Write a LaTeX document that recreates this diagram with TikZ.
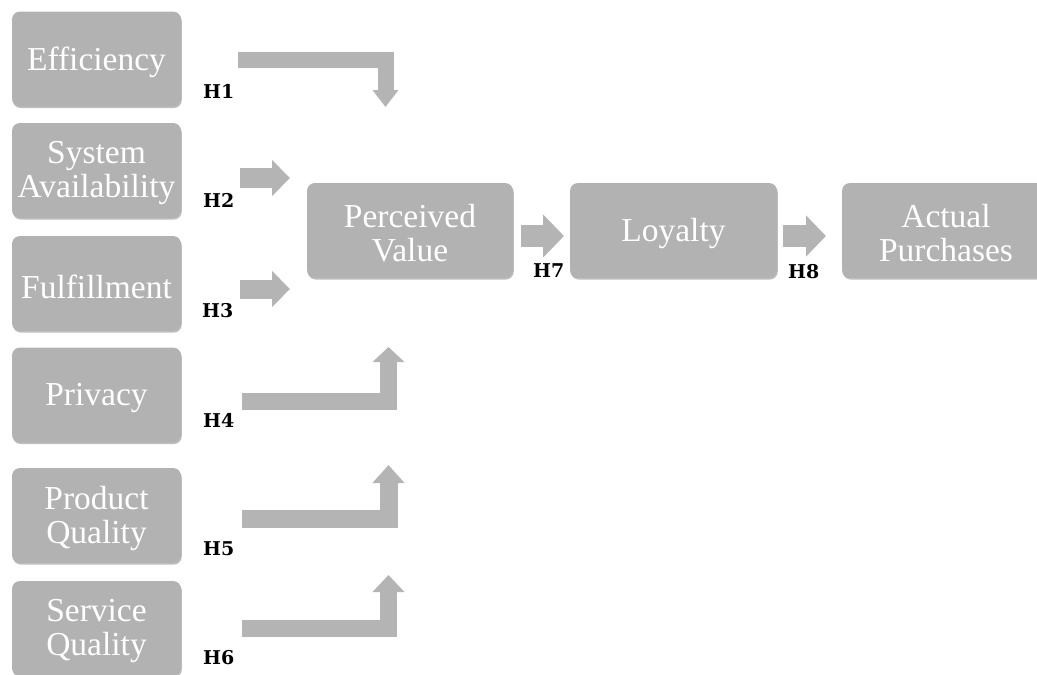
\documentclass[tikz,border=0pt]{standalone}
\usepackage{fontspec}
\setmainfont{Liberation Serif}
\newfontfamily\hfont{DejaVu Serif}
\usetikzlibrary{arrows.meta,shadows}

\definecolor{boxgray}{RGB}{178,178,178}
\definecolor{arrowgray}{RGB}{180,180,180}

\tikzset{
  boxtext/.style={align=center, text=white, inner sep=0pt, yshift=-3pt,
    font=\fontsize{33.5}{34}\selectfont},
  factor/.style={
    rectangle, rounded corners=8pt, fill=boxgray, draw=none,
    minimum width=169pt, minimum height=95pt, inner sep=0pt,
    drop shadow={shadow xshift=0.8pt, shadow yshift=-1.6pt, opacity=0.25, fill=black},
    label={[boxtext]center:#1}
  },
  stage/.style={factor=#1, minimum width=207pt},
  hyp/.style={anchor=base west, inner sep=0pt, font=\hfont\bfseries\fontsize{19}{19}\selectfont},
  blockarrow/.style={draw=arrowgray, line width=#1, line cap=butt, line join=miter},
}

\begin{document}
\begin{tikzpicture}[x=1pt,y=-1pt]
\useasboundingbox (0,0) rectangle (1037,675);

% left column of quality factors
\node[factor={Efficiency}]             (eff)  at (96.5,59)    {};
\node[factor={System\\Availability}]   (sys)  at (96.5,170.5) {};
\node[factor={Fulfillment}]            (ful)  at (96.5,283.5) {};
\node[factor={Privacy}]                (priv) at (96.5,395)   {};
\node[factor={Product\\Quality}]       (prod) at (96.5,515.5) {};
\node[factor={Service\\Quality}]       (serv) at (96.5,628.5) {};

% main chain
\node[stage={Perceived\\Value}, minimum width=206pt]   (pv)  at (410,230.5)   {};
\node[stage={Loyalty}]                                 (loy) at (673.5,230.5) {};
\node[stage={Actual\\Purchases}, minimum width=208pt]  (ap)  at (946,230.5)   {};

% arrow end points
\coordinate (a1s) at (238,60);    \coordinate (a1e) at (385.5,107);
\coordinate (a2s) at (240,178);   \coordinate (a2e) at (290,178);
\coordinate (a3s) at (240,289);   \coordinate (a3e) at (290,289);
\coordinate (a4s) at (242,401.5); \coordinate (a4e) at (388.5,347);
\coordinate (a5s) at (242,519);   \coordinate (a5e) at (388.5,465);
\coordinate (a6s) at (242,628.5); \coordinate (a6e) at (388.5,575);
\coordinate (a7s) at (521,236);   \coordinate (a7e) at (564,236);
\coordinate (a8s) at (783,236);   \coordinate (a8e) at (826,236);

% block arrows
\draw[blockarrow=16pt, -{Triangle[width=25pt,length=17pt]}] (a1s) -| (a1e);
\draw[blockarrow=20pt, -{Triangle[width=35pt,length=18pt]}] (a2s) -- (a2e);
\draw[blockarrow=19pt, -{Triangle[width=35pt,length=18pt]}] (a3s) -- (a3e);
\draw[blockarrow=17pt, -{Triangle[width=31pt,length=15pt]}] (a4s) -| (a4e);
\draw[blockarrow=18pt, -{Triangle[width=31pt,length=18pt]}] (a5s) -| (a5e);
\draw[blockarrow=17pt, -{Triangle[width=31pt,length=17pt]}] (a6s) -| (a6e);
\draw[blockarrow=22pt, -{Triangle[width=42pt,length=21pt]}] (a7s) -- (a7e);
\draw[blockarrow=22pt, -{Triangle[width=40pt,length=20pt]}] (a8s) -- (a8e);

% hypothesis labels
\node[hyp] (h1) at (203,98)  {H1};
\node[hyp] (h2) at (203,207) {H2};
\node[hyp] (h3) at (202,317) {H3};
\node[hyp] (h4) at (203,427) {H4};
\node[hyp] (h5) at (203,555) {H5};
\node[hyp] (h6) at (203,664) {H6};
\node[hyp] (h7) at (533,277) {H7};
\node[hyp] (h8) at (788,278) {H8};
\end{tikzpicture}
\end{document}
